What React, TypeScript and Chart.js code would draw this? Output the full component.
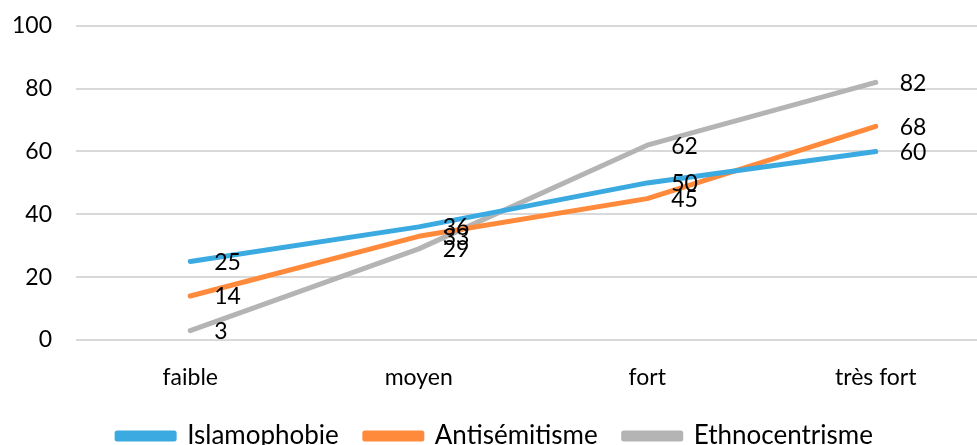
import React, { useEffect, useRef } from "react";
import { Chart, registerables } from "chart.js";

Chart.register(...registerables);

const categories = ["faible", "moyen", "fort", "très fort"];
const islamophobie = [25, 36, 50, 60];
const antisemitisme = [14, 33, 45, 68];
const ethnocentrisme = [3, 29, 62, 82];
const yTicks = [0, 20, 40, 60, 80, 100];

const FONT = "Lato, 'Open Sans', sans-serif";

const valueLabels = {
  id: "valueLabels",
  afterDatasetsDraw(chart: any) {
    const ctx = chart.ctx;
    ctx.save();
    ctx.font = `23px ${FONT}`;
    ctx.fillStyle = "#000";
    ctx.textAlign = "left";
    ctx.textBaseline = "middle";
    chart.data.datasets.forEach((ds: any, i: number) => {
      const meta = chart.getDatasetMeta(i);
      meta.data.forEach((pt: any, j: number) => {
        ctx.fillText(String(ds.data[j]), pt.x + 24, pt.y + 1);
      });
    });
    ctx.restore();
  },
};

export default function App() {
  const ref = useRef<HTMLCanvasElement>(null);
  useEffect(() => {
    if (!ref.current) return;
    const mk = (label: string, data: number[], color: string) => ({
      label,
      data,
      borderColor: color,
      backgroundColor: color,
      borderWidth: 5,
      pointRadius: 0,
      tension: 0,
      borderCapStyle: "round" as const,
      borderJoinStyle: "round" as const,
    });
    const chart = new Chart(ref.current, {
      type: "line",
      data: {
        labels: categories,
        datasets: [
          mk("Islamophobie", islamophobie, "#3BAAE0"),
          mk("Antisémitisme", antisemitisme, "#FF8A3B"),
          mk("Ethnocentrisme", ethnocentrisme, "#B4B4B4"),
        ],
      },
      options: {
        animation: false,
        responsive: false,
        maintainAspectRatio: false,
        layout: { padding: { top: 0, left: 0, right: 0, bottom: 0 } },
        plugins: {
          tooltip: { enabled: false },
          legend: {
            position: "bottom",
            labels: {
              boxWidth: 57,
              boxHeight: 6,
              padding: 26,
              color: "#000",
              font: { family: FONT, size: 26 },
            },
          },
        },
        scales: {
          x: {
            offset: true,
            afterFit: (s: any) => {
              s.height = 57;
            },
            grid: { display: false, drawTicks: false },
            border: { display: false },
            ticks: { color: "#000", font: { family: FONT, size: 23 }, padding: 24 },
          },
          y: {
            min: 0,
            max: 100,
            afterFit: (s: any) => {
              s.width = 76;
            },
            afterBuildTicks: (s: any) => {
              s.ticks = yTicks.map((v) => ({ value: v }));
            },
            grid: { color: "#D9D9D9", lineWidth: 2, drawTicks: false },
            border: { display: false },
            ticks: { color: "#000", font: { family: FONT, size: 23 }, padding: 24 },
          },
        },
      },
      plugins: [valueLabels],
    });
    return () => chart.destroy();
  }, []);
  return (
    <div style={{ position: "fixed", left: 0, top: 0, width: 977, height: 445, overflow: "hidden", background: "#fff" }}>
      <canvas ref={ref} width={990} height={471} style={{ display: "block", marginTop: -12 }} />
    </div>
  );
}
